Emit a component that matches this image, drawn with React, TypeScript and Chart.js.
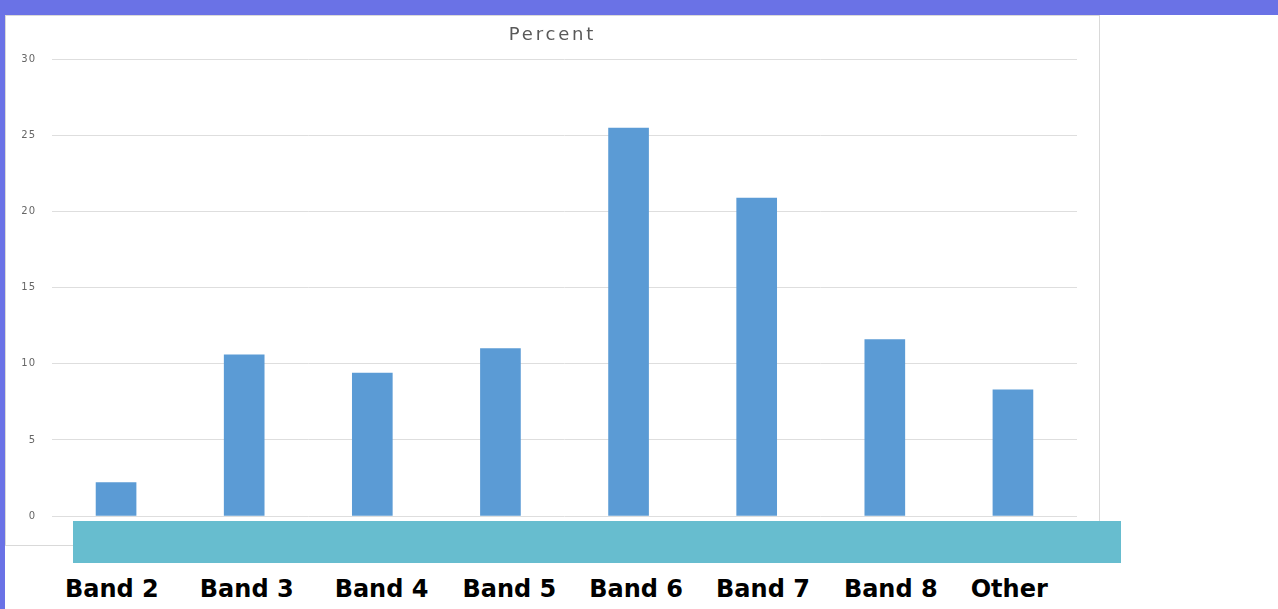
import React, { useEffect, useRef } from "react";
import { Chart, registerables } from "chart.js";

Chart.register(...registerables);

const categories = ["Band 2", "Band 3", "Band 4", "Band 5", "Band 6", "Band 7", "Band 8", "Other"];
const percentValues = [2.2, 10.6, 9.4, 11.0, 25.5, 20.9, 11.6, 8.3];
const chartTitle = "Percent";
const yMin = 0;
const yMax = 30;
const yStep = 5;
const labelGaps = [0, 41, 41, 34, 33, 33, 34, 33];

const spacingPlugin = {
  id: "letterSpacing",
  beforeDraw(chart: any) {
    (chart.ctx as any).letterSpacing = "2.8px";
  },
  afterDatasetsDraw(chart: any) {
    (chart.ctx as any).letterSpacing = "1px";
  },
  afterDraw(chart: any) {
    (chart.ctx as any).letterSpacing = "0px";
  },
};

export default function App() {
  const canvasRef = useRef<HTMLCanvasElement | null>(null);

  useEffect(() => {
    if (!canvasRef.current) return;
    const chart = new Chart(canvasRef.current, {
      type: "bar",
      data: {
        labels: categories,
        datasets: [
          {
            label: chartTitle,
            data: percentValues,
            backgroundColor: "#5b9bd5",
            borderWidth: 0,
            barThickness: 40,
            yAxisID: "y",
          },
        ],
      },
      options: {
        animation: false,
        responsive: false,
        layout: { padding: { left: 0, right: 0, top: 0, bottom: 29 } },
        plugins: {
          legend: { display: false },
          tooltip: { enabled: false },
          title: {
            display: true,
            text: chartTitle,
            color: "#595959",
            font: { family: "'DejaVu Sans'", size: 18, weight: "normal" },
            padding: { top: 9, bottom: 13 },
          },
        },
        scales: {
          x: { display: false },
          y: {
            position: "left",
            min: yMin,
            max: yMax,
            ticks: {
              stepSize: yStep,
              padding: 16,
              color: "#666666",
              font: { family: "'DejaVu Sans'", size: 10 },
              z: 1,
            },
            grid: { color: "#dedede", lineWidth: 1, drawTicks: false },
            border: { display: false },
            afterFit: (s: any) => {
              s.width = 46;
            },
          },
          yRightSpace: {
            position: "right",
            display: true,
            ticks: { display: false },
            grid: { display: false },
            border: { display: false },
            afterFit: (s: any) => {
              s.width = 22;
            },
          },
        },
      },
      plugins: [spacingPlugin],
    });
    return () => chart.destroy();
  }, []);

  return (
    <div
      style={{
        position: "fixed",
        left: 0,
        top: 0,
        width: 1278,
        height: 609,
        background: "#ffffff",
        overflow: "hidden",
      }}
    >
      <div style={{ position: "absolute", left: 0, top: 0, width: 1278, height: 15, background: "#6a72e6" }} />
      <div style={{ position: "absolute", left: 0, top: 0, width: 5, height: 609, background: "#6a72e6" }} />
      <div
        style={{
          position: "absolute",
          left: 5,
          top: 15,
          width: 1093,
          height: 529,
          border: "1px solid #d9d9d9",
          background: "#ffffff",
        }}
      >
        <canvas ref={canvasRef} width={1093} height={529} style={{ display: "block", width: 1093, height: 529 }} />
      </div>
      <div style={{ position: "absolute", left: 73, top: 521, width: 1048, height: 42, background: "#67bdcf" }} />
      <div
        style={{
          position: "absolute",
          left: 65,
          top: 577,
          display: "flex",
          fontFamily: "'DejaVu Sans', sans-serif",
          fontWeight: 700,
          fontSize: 24,
          lineHeight: "24px",
          color: "#000000",
          whiteSpace: "nowrap",
        }}
      >
        {categories.map((c, i) => (
          <span key={c} style={{ marginLeft: labelGaps[i] }}>
            {c}
          </span>
        ))}
      </div>
    </div>
  );
}
